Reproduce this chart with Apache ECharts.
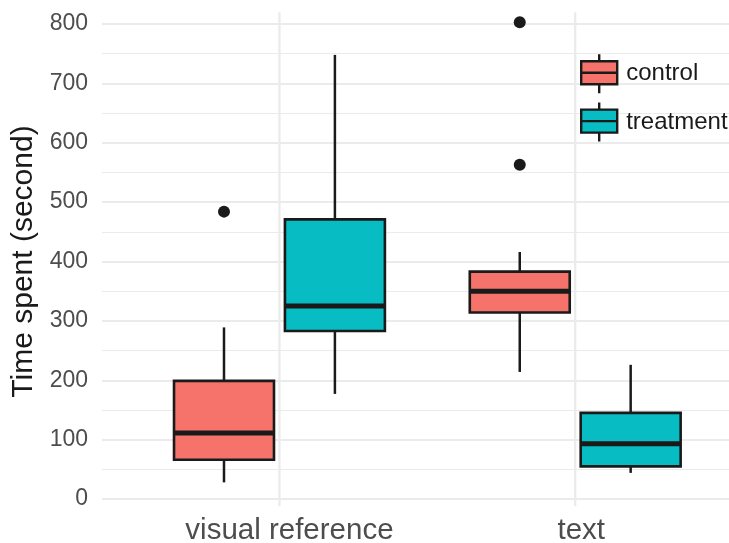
<!DOCTYPE html>
<html><head><meta charset="utf-8">
<script src="https://cdn.jsdelivr.net/npm/echarts@6/dist/echarts.min.js"></script>
<style>html,body{margin:0;padding:0;background:#fff}#c{width:729px;height:543px}</style>
</head><body><div id="c"></div>
<script>
// ---- data ----
const categories = ['visual reference', 'text'];
const groups = ['control', 'treatment'];
// [low whisker, Q1, median, Q3, high whisker] per category
const controlStats = [[28, 66, 111, 199, 289], [214, 314, 350, 383, 416]];
const treatmentStats = [[177, 283, 325, 471, 748], [44, 55, 93, 145, 226]];
// outliers: [category index, value]
const controlOutliers = [[0, 484], [1, 803], [1, 563]];
const treatmentOutliers = [];
const yTicks = [0, 100, 200, 300, 400, 500, 600, 700, 800];
const groupColors = ['#F5736A', '#07BCC2'];

// ---- layout constants ----
const DODGE = 0.1875, HALF = 0.169;
const INK = '#1a1a1a';

function boxRenderer(offset) {
  return function (params, api) {
    const x = api.value(0) + offset;
    const lo = api.value(1), q1 = api.value(2), med = api.value(3), q3 = api.value(4), hi = api.value(5);
    const tl = api.coord([x - HALF, q3]);
    const br = api.coord([x + HALF, q1]);
    const pHi = api.coord([x, hi]);
    const pLo = api.coord([x, lo]);
    const mL = api.coord([x - HALF, med]);
    const mR = api.coord([x + HALF, med]);
    const color = api.visual('color');
    return {
      type: 'group',
      children: [
        { type: 'line', shape: { x1: pHi[0], y1: pHi[1], x2: pHi[0], y2: tl[1] }, style: { stroke: INK, lineWidth: 2.5 } },
        { type: 'line', shape: { x1: pLo[0], y1: br[1], x2: pLo[0], y2: pLo[1] }, style: { stroke: INK, lineWidth: 2.5 } },
        { type: 'rect', shape: { x: tl[0], y: tl[1], width: br[0] - tl[0], height: br[1] - tl[1] }, style: { fill: color, stroke: INK, lineWidth: 2.6 } },
        { type: 'line', shape: { x1: mL[0], y1: mL[1], x2: mR[0], y2: mR[1] }, style: { stroke: INK, lineWidth: 5 } }
      ]
    };
  };
}

const chart = echarts.init(document.getElementById('c'), null, { renderer: 'canvas' });
const fam = '"Liberation Sans", Arial, Helvetica, sans-serif';
const labelStyle = { fontSize: 29.5, color: '#4d4d4d', fontFamily: fam };

const option = {
  animation: false,
  backgroundColor: '#ffffff',
  textStyle: { fontFamily: fam },
  grid: { left: 102, right: 0, top: 24, bottom: 44, containLabel: false, outerBoundsMode: 'none' },
  legend: {
    data: groups,
    orient: 'vertical',
    left: 580, top: 53, padding: 0,
    itemWidth: 36, itemHeight: 39, itemGap: 7,
    selectedMode: false,
    icon: 'path://M0,7L36,7L36,30L0,30Z M0,18.5L36,18.5 M18,0L18,7 M18,30L18,39',
    itemStyle: { borderColor: INK, borderWidth: 2.4 },
    textStyle: { fontSize: 24, color: INK, fontFamily: fam, padding: [0, 0, 0, 4] }
  },
  xAxis: {
    type: 'value', min: 0.4, max: 2.52,
    axisLine: { show: false }, axisTick: { show: false }, splitLine: { show: false },
    axisLabel: {
      customValues: categories.map((c, i) => i + 1),
      formatter: v => (Number.isInteger(v) && categories[v - 1]) ? ('{c' + v + '|' + categories[v - 1] + '}') : '',
      rich: {
        c1: Object.assign({ padding: [0, 0, 0, 20] }, labelStyle),
        c2: Object.assign({ padding: [0, 0, 0, 12] }, labelStyle)
      },
      fontSize: 29.5, color: '#4d4d4d', margin: 17, fontFamily: fam
    }
  },
  yAxis: {
    type: 'value', min: yTicks[0], max: yTicks[yTicks.length - 1], interval: yTicks[1] - yTicks[0],
    name: 'Time spent (second)', nameLocation: 'middle', nameGap: 63, nameRotate: 90,
    nameTextStyle: { fontSize: 30, color: INK, fontFamily: fam },
    axisLine: { show: false }, axisTick: { show: false },
    axisLabel: { fontSize: 23, color: '#4d4d4d', margin: 14, fontFamily: fam },
    splitLine: { lineStyle: { color: '#ebebeb', width: 2 } },
    minorTick: { show: false, splitNumber: 2 },
    minorSplitLine: { show: true, lineStyle: { color: '#ebebeb', width: 1.2 } }
  },
  series: [
    {
      name: 'vgrid', type: 'custom', silent: true, z: 1, clip: false,
      data: categories.map((c, i) => [i + 1]),
      encode: { x: 0 },
      renderItem: function (params, api) {
        const a = api.coord([api.value(0), -12]);
        const b = api.coord([api.value(0), 820]);
        return { type: 'line', shape: { x1: a[0], y1: a[1], x2: b[0], y2: b[1] }, style: { stroke: '#ebebeb', lineWidth: 2.3 } };
      }
    },
    {
      name: groups[0], type: 'custom', z: 3, clip: false,
      itemStyle: { color: groupColors[0] },
      data: controlStats.map((s, i) => [i + 1].concat(s)),
      encode: { x: 0, y: [1, 2, 3, 4, 5] },
      renderItem: boxRenderer(-DODGE)
    },
    {
      name: groups[1], type: 'custom', z: 3, clip: false,
      itemStyle: { color: groupColors[1] },
      data: treatmentStats.map((s, i) => [i + 1].concat(s)),
      encode: { x: 0, y: [1, 2, 3, 4, 5] },
      renderItem: boxRenderer(DODGE)
    },
    {
      name: 'control outliers', type: 'scatter', z: 4, clip: false, symbolSize: 12,
      itemStyle: { color: INK, opacity: 1 },
      data: controlOutliers.map(([i, v]) => [i + 1 - DODGE, v])
    },
    {
      name: 'treatment outliers', type: 'scatter', z: 4, clip: false, symbolSize: 12,
      itemStyle: { color: INK, opacity: 1 },
      data: treatmentOutliers.map(([i, v]) => [i + 1 + DODGE, v])
    }
  ]
};
chart.setOption(option);
</script>
</body></html>
